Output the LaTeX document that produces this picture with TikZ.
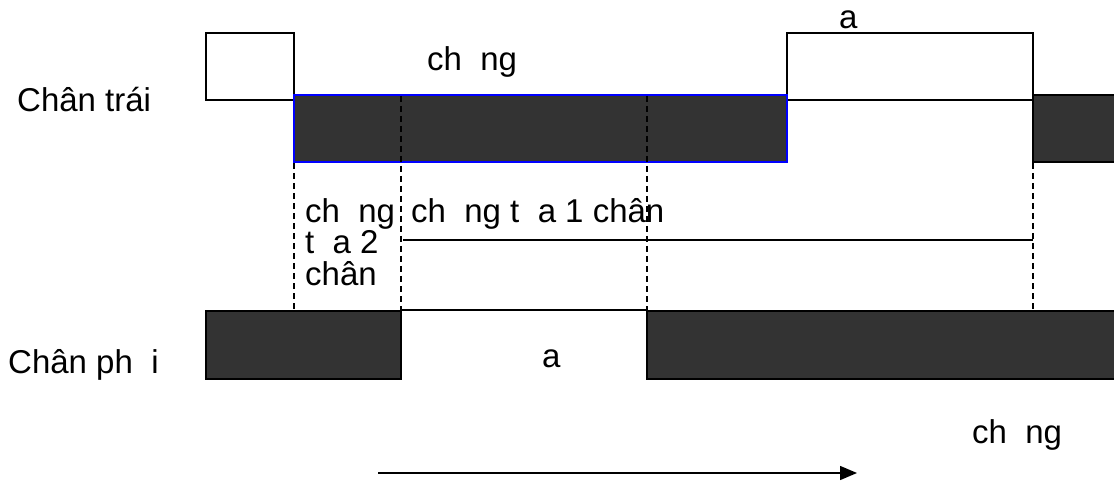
\documentclass[tikz,border=0pt]{standalone}
\usepackage{fontspec}
\setmainfont{Liberation Sans}
\usetikzlibrary{arrows.meta}
\definecolor{barfill}{HTML}{333333}
\definecolor{barblue}{HTML}{0000FF}
\begin{document}
\begin{tikzpicture}[x=1pt,y=-1pt,
  lbl/.style={inner sep=0pt,anchor=base west,font=\fontsize{33}{38}\selectfont},
  whitebox/.style={draw=black,line width=1.5pt,fill=white},
  darkbox/.style={draw=black,line width=1.5pt,fill=barfill},
  bluebox/.style={draw=barblue,line width=1.5pt,fill=barfill},
  guide/.style={draw=black,line width=1.2pt,dash pattern=on 6pt off 4pt},
  plain/.style={draw=black,line width=1.5pt}]
\useasboundingbox (0,0) rectangle (1114,481);
% left foot (top)
\draw[whitebox] (206,33) rectangle (294,100);
\draw[whitebox] (787,33) rectangle (1033,100);
\draw[bluebox] (294,95) rectangle (787,162);
\draw[darkbox] (1033,95) rectangle (1120,162);
% right foot (bottom)
\draw[darkbox] (206,311) rectangle (401,379);
\draw[plain] (401,310) -- (647,310);
\draw[darkbox] (647,311) rectangle (1120,379);
% guides
\coordinate (g1t) at (294,163); \coordinate (g1b) at (294,310);
\coordinate (g2t) at (401,96);  \coordinate (g2b) at (401,310);
\coordinate (g3t) at (647,96);  \coordinate (g3b) at (647,310);
\coordinate (g4t) at (1033,163);\coordinate (g4b) at (1033,310);
\draw[guide] (g1t) -- (g1b);
\draw[guide] (g2t) -- (g2b);
\draw[guide] (g3t) -- (g3b);
\draw[guide] (g4t) -- (g4b);
\coordinate (h1) at (403,240); \coordinate (h2) at (1033,240);
\draw[plain] (h1) -- (h2);
% labels
\node[lbl] (ltrai) at (17,112) {Chân trái};
\node[lbl] (lphai) at (8,373) {Chân ph~~i};
\node[lbl] (ltop) at (427,71) {ch~~ng};
\node[lbl] (la1) at (839,29) {a};
\node[lbl] (la2) at (542,367) {a};
\node[lbl] (lbot) at (972,443) {ch~~ng};
\node[lbl] (c1) at (305,223) {ch~~ng};
\node[lbl] (c2) at (305,254) {t~~a 2};
\node[lbl] (c3) at (305,285) {chân};
\node[lbl] (c4) at (411,223) {ch~~ng t~~a 1 chân};
% time arrow
\coordinate (as) at (378,473); \coordinate (ae) at (857,473);
\draw[line width=1.5pt,-{Triangle[length=17pt,width=14pt]}] (as) -- (ae);
\end{tikzpicture}
\end{document}
